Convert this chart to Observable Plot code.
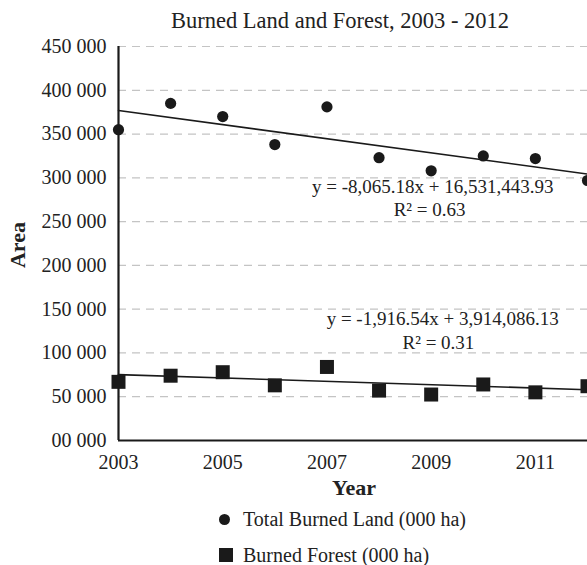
<!DOCTYPE html>
<html>
<head>
<meta charset="utf-8">
<script src="https://cdn.jsdelivr.net/npm/d3@7"></script>
<script src="https://cdn.jsdelivr.net/npm/@observablehq/plot@0.6"></script>
<style>
  body { margin: 0; background: white; }
  #wrap { position: relative; width: 587px; height: 565px; overflow: hidden; font-family: 'Liberation Serif', serif; color: #222; }
  #wrap svg, #wrap svg text { font-family: 'Liberation Serif', serif !important; }
  .lbl { position: absolute; white-space: nowrap; line-height: 1; }
</style>
</head>
<body>
<div id="wrap"></div>
<script>
const years = [2003, 2004, 2005, 2006, 2007, 2008, 2009, 2010, 2011, 2012];
const totalBurned = [355000, 385000, 370000, 338000, 381000, 323000, 308000, 325000, 322000, 297000];
const burnedForest = [67000, 74000, 78000, 63000, 84000, 57000, 52500, 64000, 55000, 62000];
const seriesNames = ["Total Burned Land (000 ha)", "Burned Forest (000 ha)"];
const trendSlopes = [-8065.18, -1916.54];
const trendIntercepts = [16531443.93, 3914086.13];
const trendEquations = ["y = -8,065.18x + 16,531,443.93", "y = -1,916.54x + 3,914,086.13"];
const trendR2 = ["R² = 0.63", "R² = 0.31"];
const yTicks = [0, 50000, 100000, 150000, 200000, 250000, 300000, 350000, 400000, 450000];
const yTickLabels = ["00 000", "50 000", "100 000", "150 000", "200 000", "250 000", "300 000", "350 000", "400 000", "450 000"];
const xTicks = [2003, 2005, 2007, 2009, 2011];

const totalData = years.map((x, i) => ({x, y: totalBurned[i]}));
const forestData = years.map((x, i) => ({x, y: burnedForest[i]}));
const trendData = [0, 1].flatMap(s => [years[0], years[years.length - 1]].map(x => ({s, x, y: trendSlopes[s] * x + trendIntercepts[s]})));

const ink = "#1a1a1a";
const serif = "'Liberation Serif', serif";
const chart = Plot.plot({
  width: 587, height: 565,
  marginTop: 46, marginBottom: 125, marginLeft: 118, marginRight: 0,
  style: {fontFamily: serif, fontSize: "20px", color: "#222", background: "white"},
  x: {domain: [2003, 2012], ticks: xTicks, tickFormat: d => String(d), tickSize: 0, tickPadding: 14, label: null},
  y: {domain: [0, 450000], ticks: yTicks, tickFormat: d => yTickLabels[yTicks.indexOf(d)], tickSize: 0, tickPadding: 12, label: null},
  marks: [
    Plot.gridY(yTicks.filter(d => d > 0), {stroke: "#c4c4c4", strokeOpacity: 1, strokeWidth: 1.2, strokeDasharray: "8,6"}),
    Plot.ruleY([0], {stroke: ink, strokeWidth: 2.2}),
    Plot.ruleX([2003], {stroke: ink, strokeWidth: 2.2}),
    Plot.line(trendData, {x: "x", y: "y", z: "s", stroke: ink, strokeWidth: 1.6}),
    Plot.dot(totalData, {x: "x", y: "y", symbol: "circle", r: 5.6, fill: ink, stroke: "none"}),
    Plot.dot(forestData, {x: "x", y: "y", symbol: "square", r: 7.9, fill: ink, stroke: "none"}),
    Plot.text([trendEquations[0]], {x: 2009.03, y: 290000, text: d => d, fontSize: 19, fontFamily: serif, fill: "#222"}),
    Plot.text([trendR2[0]], {x: 2008.97, y: 263700, text: d => d, fontSize: 19, fontFamily: serif, fill: "#222"}),
    Plot.text([trendEquations[1]], {x: 2009.22, y: 139300, text: d => d, fontSize: 19, fontFamily: serif, fill: "#222"}),
    Plot.text([trendR2[1]], {x: 2009.14, y: 111900, text: d => d, fontSize: 19, fontFamily: serif, fill: "#222"})
  ]
});
const wrap = document.getElementById("wrap");
wrap.appendChild(chart);
chart.style.position = "absolute";
chart.style.left = "0px";
chart.style.top = "0px";

function addLabel(text, css) {
  const d = document.createElement("div");
  d.className = "lbl";
  d.textContent = text;
  Object.assign(d.style, css);
  wrap.appendChild(d);
  return d;
}
// title
addLabel("Burned Land and Forest, 2003 - 2012", {fontSize: "22.5px", top: "10px", left: "340px", transform: "translateX(-50%)"});
// axis titles
addLabel("Year", {fontSize: "22px", fontWeight: "bold", top: "477px", left: "354px", transform: "translateX(-50%)"});
addLabel("Area", {fontSize: "22px", fontWeight: "bold", top: "245px", left: "18px", transform: "translate(-50%,-50%) rotate(-90deg)"});
// legend
const legendY = [519, 555];
const legendShapes = ["circle", "square"];
seriesNames.forEach((name, i) => {
  const m = document.createElement("div");
  m.style.position = "absolute";
  m.style.background = ink;
  if (legendShapes[i] === "circle") {
    Object.assign(m.style, {width: "11px", height: "11px", borderRadius: "50%", left: (224 - 5.5) + "px", top: (legendY[i] - 5.5) + "px"});
  } else {
    Object.assign(m.style, {width: "14px", height: "14px", left: (226 - 7) + "px", top: (legendY[i] - 7) + "px"});
  }
  wrap.appendChild(m);
  addLabel(name, {fontSize: "20px", left: "243px", top: (legendY[i] - 10) + "px"});
});
</script>
</body>
</html>
